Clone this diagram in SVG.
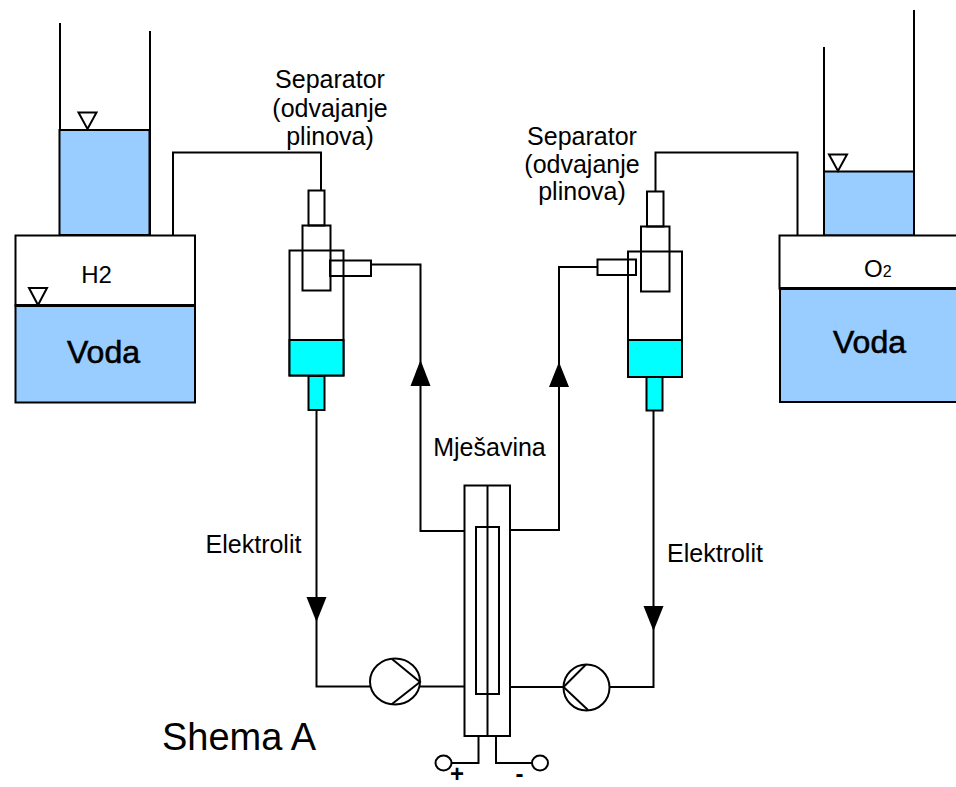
<svg xmlns="http://www.w3.org/2000/svg" width="956" height="787" viewBox="0 0 956 787">
<style>
.l{fill:none;stroke:#000;stroke-width:2}
.k{fill:#000;stroke:none}
.w{fill:#fff;stroke:#000;stroke-width:2}
.b{fill:#99ccff;stroke:#000;stroke-width:2}
.c{fill:#00ffff;stroke:#000;stroke-width:2}
text{font-family:"Liberation Sans",Arial,sans-serif;fill:#000}
.t{font-size:25px;text-anchor:middle}
.v{font-size:32px;stroke:#000;stroke-width:.6}
</style>
<rect width="956" height="787" fill="#fff"/>
<g id="connectors">
<path class="l" d="M173 235V152.500H321V190"/>
<path class="l" d="M797.500 235V152.500H655.500V191"/>
<path class="l" d="M371 264.500H420.500V531H464"/>
<path class="l" d="M597 267H559V530H510"/>
<path class="l" d="M316.500 410V686.500H370M420 686.500H464"/>
<path class="l" d="M653.500 410V687H609M563 687H510"/>
<path class="l" d="M478.500 736V763H452M496 736V763H532"/>
<path class="k" d="M420.500 360L430.500 386H410.500Z"/>
<path class="k" d="M559 362L569 387H549Z"/>
<path class="k" d="M316.500 622L306.500 597H326.500Z"/>
<path class="k" d="M653.500 631L643.500 606H663.500Z"/>
</g>
<g id="tank-h2">
<rect class="b" x="59.500" y="130" width="90" height="105"/>
<path class="l" d="M60 23V130M150 31V235"/>
<path class="w" d="M78.500 112.500H96.500L87.500 129Z"/>
<rect class="w" x="15.500" y="235.500" width="179.500" height="70"/>
<rect class="b" x="15.500" y="305.500" width="179.500" height="97"/>
<path class="l" d="M15.500 305.500H195" style="stroke-width:3"/>
<path class="w" d="M29 288H47L38 305Z"/>
<text x="96.500" y="283" style="font-size:24px" text-anchor="middle">H2</text>
<text class="v" x="67" y="363">Voda</text>
</g>
<g id="tank-o2">
<rect class="b" x="824" y="171.500" width="90" height="64"/>
<path class="l" d="M824 47V171M914 10V235"/>
<path class="w" d="M829 154.500H847L838 171Z"/>
<rect class="w" x="779.500" y="235.500" width="180" height="53"/>
<rect class="b" x="780" y="288.500" width="180" height="113.500"/>
<path class="l" d="M780 288.500H956" style="stroke-width:3"/>
<text x="864" y="277" style="font-size:24px">O<tspan style="font-size:16px">2</tspan></text>
<text class="v" x="833" y="353">Voda</text>
</g>
<g id="separator-left">
<rect class="w" x="289.500" y="250.500" width="54" height="125"/>
<rect class="c" x="289.500" y="340" width="54" height="35.500"/>
<rect class="c" x="308.500" y="376" width="16" height="34"/>
<rect class="w" x="308.500" y="190.500" width="16" height="35"/>
<rect class="l" x="302.500" y="225.500" width="28" height="65"/>
<rect class="l" x="330" y="260.500" width="41" height="15.500"/>
</g>
<g id="separator-right">
<rect class="w" x="628" y="251.500" width="54" height="125.500"/>
<rect class="c" x="628" y="340" width="54" height="37"/>
<rect class="c" x="646.500" y="377" width="16" height="33.500"/>
<rect class="w" x="647" y="191.500" width="16.500" height="35"/>
<rect class="l" x="641" y="226.500" width="28.500" height="65"/>
<rect class="l" x="597.500" y="259.500" width="38.500" height="15.500"/>
</g>
<g id="cell">
<rect class="w" x="464.500" y="485.500" width="45.500" height="250.500"/>
<rect class="l" x="476" y="527" width="23" height="167"/>
<path class="l" d="M487.500 485.500V736"/>
</g>
<g id="pump-left">
<ellipse class="w" cx="395" cy="681.500" rx="25" ry="23"/>
<path class="l" d="M392 659L420 682L392 704"/>
</g>
<g id="pump-right">
<circle class="w" cx="586.500" cy="687.500" r="23"/>
<path class="l" d="M586 664.500L563.500 687L588 710"/>
</g>
<g id="terminals">
<ellipse class="w" cx="443.500" cy="763" rx="8" ry="7.500"/>
<ellipse class="w" cx="540" cy="763" rx="8" ry="7.500"/>
<text x="457" y="781.500" style="font-size:24px;font-weight:bold" text-anchor="middle">+</text>
<text x="519.500" y="781.500" style="font-size:24px;font-weight:bold" text-anchor="middle">-</text>
</g>
<g id="labels">
<text class="t" x="330" y="88">Separator</text>
<text class="t" x="330" y="117">(odvajanje</text>
<text class="t" x="330" y="145">plinova)</text>
<text class="t" x="582" y="145">Separator</text>
<text class="t" x="582" y="173">(odvajanje</text>
<text class="t" x="582" y="200">plinova)</text>
<text class="t" x="489.500" y="456">Mješavina</text>
<text class="t" x="253.500" y="553">Elektrolit</text>
<text class="t" x="715" y="562">Elektrolit</text>
<text x="162" y="750" style="font-size:38px">Shema A</text>
</g>
</svg>
